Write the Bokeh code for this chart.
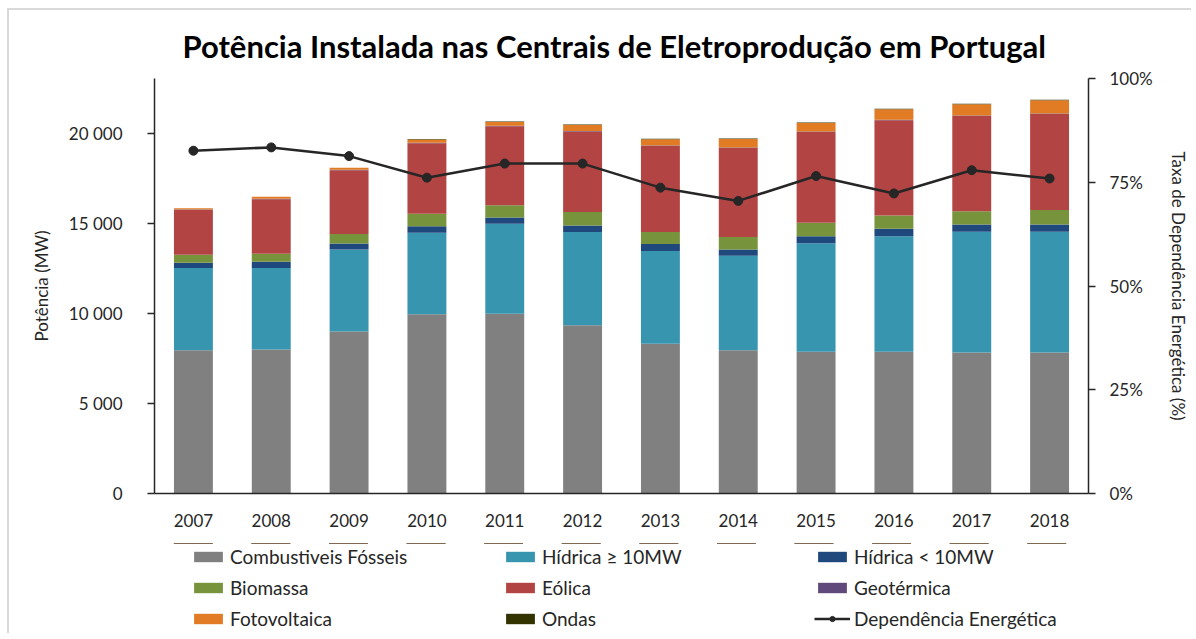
from bokeh.plotting import figure
from bokeh.layouts import column
from bokeh.models import (ColumnDataSource, FactorRange, Range1d, LinearAxis, FixedTicker,
                          CustomJSTickFormatter, NumeralTickFormatter, Legend, LegendItem)
from bokeh.embed import file_html
from bokeh.resources import INLINE

years = ["2007", "2008", "2009", "2010", "2011", "2012", "2013", "2014", "2015", "2016", "2017", "2018"]

fosseis = [7960, 8000, 9000, 9960, 9980, 9350, 8315, 7960, 7870, 7870, 7835, 7835]
hidrica_grande = [4560, 4520, 4555, 4520, 5000, 5170, 5150, 5245, 6035, 6425, 6700, 6700]
hidrica_pequena = [300, 350, 335, 370, 350, 370, 390, 350, 390, 410, 405, 405]
biomassa = [440, 445, 520, 685, 685, 740, 665, 685, 740, 740, 740, 800]
eolica = [2490, 3025, 3545, 3915, 4380, 4470, 4785, 4950, 5045, 5285, 5285, 5340]
geotermica = [30, 30, 30, 30, 30, 30, 30, 30, 30, 30, 30, 30]
fotovoltaica = [70, 110, 110, 175, 210, 340, 340, 470, 470, 580, 620, 730]
ondas = [0, 0, 0, 30, 30, 30, 30, 30, 30, 30, 30, 30]
dependencia = [0.826, 0.834, 0.813, 0.761, 0.795, 0.795, 0.737, 0.705, 0.765, 0.723, 0.779, 0.759]

series_keys = ["fosseis", "hidrica_grande", "hidrica_pequena", "biomassa", "eolica",
               "geotermica", "fotovoltaica", "ondas"]
series_labels = ["Combustiveis Fósseis", "Hídrica ≥ 10MW", "Hídrica < 10MW", "Biomassa",
                 "Eólica", "Geotérmica", "Fotovoltaica", "Ondas"]
line_label = "Dependência Energética"
colors = ["#808080", "#3895b0", "#1f497d", "#77933c", "#b24443", "#604a7b", "#e17b24", "#333300"]

title = "Potência Instalada nas Centrais de Eletroprodução em Portugal"
y_left_label = "Potência (MW)"
y_right_label = "Taxa de Dependência Energética (%)"

FONT = "Lato"
BORDER = "#d9d9d9"

source = ColumnDataSource(dict(
    years=years, fosseis=fosseis, hidrica_grande=hidrica_grande, hidrica_pequena=hidrica_pequena,
    biomassa=biomassa, eolica=eolica, geotermica=geotermica, fotovoltaica=fotovoltaica,
    ondas=ondas, dependencia=dependencia))

p = figure(frame_width=934, frame_height=415, x_range=FactorRange(*years, range_padding=0),
           y_range=Range1d(0, 23050), output_backend="svg", toolbar_location=None,
           min_border_left=154, min_border_right=100, min_border_top=78, min_border_bottom=50)
p.border_fill_color = None
p.styles = {
    "background": (f"linear-gradient({BORDER},{BORDER}) 7px 8px / 2px 100% no-repeat, "
                   f"linear-gradient({BORDER},{BORDER}) 7px 8px / 100% 2px no-repeat, #ffffff"),
}
p.extra_y_ranges = {"pct": Range1d(0, 1.0)}

p.title.text = title
p.title.align = "left"
p.title.offset = 28
p.title.text_font = FONT
p.title.text_font_size = "31px"
p.title.text_font_style = "bold"
p.title.text_color = "#000000"
p.title.standoff = 28

p.vbar_stack(series_keys, x="years", width=0.5, color=colors, line_color=None, source=source)

p.line(x="years", y="dependencia", y_range_name="pct", line_color="#262626",
       line_width=2.5, source=source)
p.scatter(x="years", y="dependencia", y_range_name="pct", size=9, color="#262626",
          source=source)

p.xgrid.grid_line_color = None
p.ygrid.grid_line_color = None
p.outline_line_color = None

# left axis
ya = p.yaxis[0]
ya.ticker = FixedTicker(ticks=[0, 5000, 10000, 15000, 20000])
ya.formatter = CustomJSTickFormatter(code="return tick.toString().replace(/\\B(?=(\\d{3})+(?!\\d))/g, ' ');")
ya.axis_label = y_left_label
ya.axis_label_standoff = 14
ya.major_label_standoff = 25
ya.major_tick_in = 0
ya.major_tick_out = 7
ya.minor_tick_out = 0
ya.minor_tick_in = 0

# right axis
ra = LinearAxis(y_range_name="pct", axis_label=y_right_label)
ra.ticker = FixedTicker(ticks=[0, 0.25, 0.5, 0.75, 1.0])
ra.formatter = NumeralTickFormatter(format="0%")
ra.axis_label_standoff = 12
ra.major_label_standoff = 14
ra.major_tick_in = 0
ra.major_tick_out = 7
ra.minor_tick_out = 0
ra.minor_tick_in = 0
p.add_layout(ra, "right")

xa = p.xaxis[0]
xa.major_tick_in = 0
xa.major_tick_out = 0
xa.major_label_standoff = 20

for ax in [ya, ra, xa]:
    ax.axis_line_color = "#262626"
    ax.axis_line_width = 1.5
    ax.major_tick_line_color = "#262626"
    ax.major_tick_line_width = 1.5
    ax.major_label_text_font = FONT
    ax.major_label_text_font_size = "17px"
    ax.major_label_text_color = "#262626"
    ax.axis_label_text_font = FONT
    ax.axis_label_text_font_size = "17px"
    ax.axis_label_text_font_style = "normal"
    ax.axis_label_text_color = "#262626"

# legend strip below the chart: same series, drawn outside its visible range so only
# the legend keys show
lg = figure(width=1188, height=90, output_backend="svg", toolbar_location=None,
            x_range=FactorRange(*years, range_padding=0), y_range=Range1d(-50000, -25000),
            x_axis_type=None, y_axis_type=None, min_border=0)
lg.border_fill_color = None
lg.background_fill_color = None
lg.outline_line_color = None
lg.xgrid.grid_line_color = None
lg.ygrid.grid_line_color = None
lg.styles = {"background": f"linear-gradient({BORDER},{BORDER}) 7px 0 / 2px 100% no-repeat, #ffffff"}

lbars = lg.vbar_stack(series_keys, x="years", width=0.5, color=colors, line_color=None, source=source)
lr = lg.line(x="years", y="dependencia", line_color="#262626", line_width=2.5, source=source)
dr = lg.scatter(x="years", y="dependencia", size=9, color="#262626", source=source)

items = [LegendItem(label=lab, renderers=[r]) for lab, r in zip(series_labels, lbars)]
items.append(LegendItem(label=line_label, renderers=[lr, dr]))

legend = Legend(items=items, location=(36, 3), orientation="horizontal", ncols=3,
                glyph_width=36, glyph_height=13, label_height=20, label_width=264,
                label_standoff=4, spacing=8, padding=3, margin=0,
                label_text_font=FONT, label_text_font_size="19px", label_text_color="#262626",
                border_line_color=None, background_fill_alpha=0)
lg.add_layout(legend, "center")

layout = column(p, lg, spacing=0)
open("out.html", "w").write(file_html(layout, INLINE))
